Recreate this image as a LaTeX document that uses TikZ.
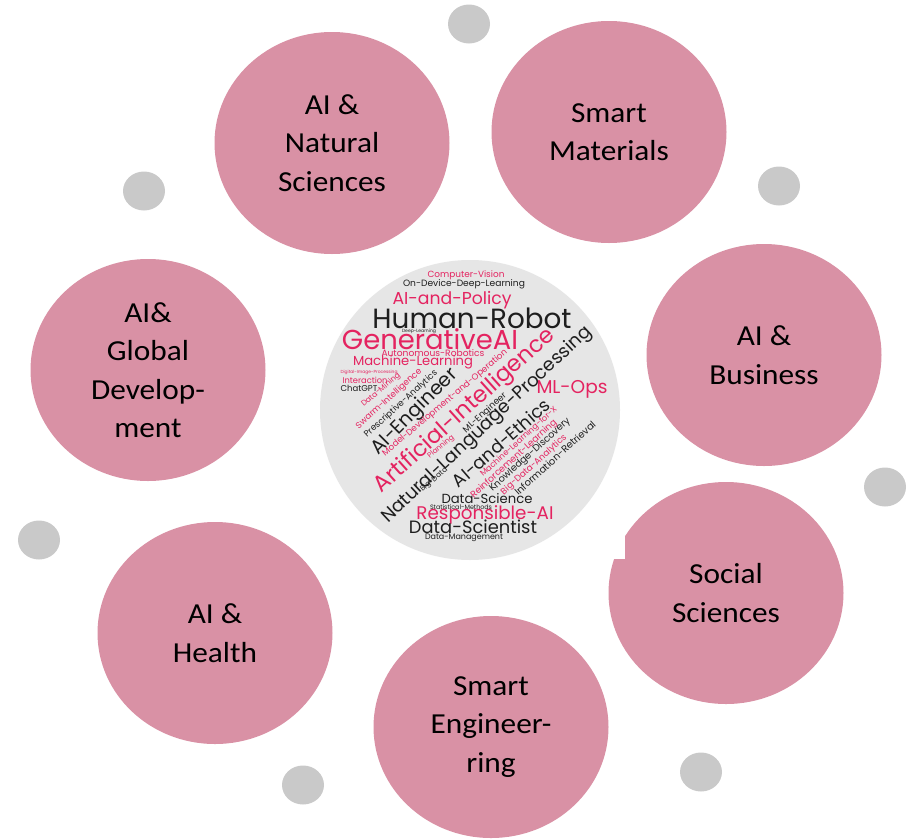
\documentclass[tikz,border=0pt]{standalone}
\usepackage{fontspec}
\usepackage{graphicx}
\usepackage{xcolor}
\usepackage{tikz}
\usetikzlibrary{shapes.geometric, positioning}
\setmainfont{Carlito}
\newfontfamily\topicfont[FakeStretch=1.08]{Carlito}
\newfontfamily\cloudfont{Poppins}
\definecolor{topicpink}{RGB}{217,145,165}
\definecolor{dotgrey}{RGB}{201,201,201}
\definecolor{cloudgrey}{RGB}{230,230,230}
\definecolor{wordpink}{RGB}{228,35,96}
\definecolor{wordblack}{RGB}{30,30,30}

\begin{document}
\begin{tikzpicture}[x=1pt, y=-1pt,
  topic/.style={ellipse, fill=topicpink, minimum width=235pt, minimum height=222pt,
    inner sep=0pt, align=center, font=\topicfont\fontsize{29}{38.5}\selectfont},
  dot/.style={ellipse, fill=dotgrey, minimum width=42pt, minimum height=39pt, inner sep=0pt},
  disc/.style={circle, fill=cloudgrey, minimum size=300pt, inner sep=0pt},
  word/.style={inner sep=0pt, font=\cloudfont}
]
\useasboundingbox (0,0) rectangle (915,838);

% small grey dots round the ring
\node[dot] (d1) at (469,24) {};
\node[dot] (d2) at (144,191) {};
\node[dot] (d3) at (779,186) {};
\node[dot] (d4) at (885,487) {};
\node[dot] (d5) at (39,540) {};
\node[dot] (d6) at (303,785) {};
\node[dot] (d7) at (701,772) {};

% the seven topics
\node[topic] (natsci)    at (332,143) {AI \&\\Natural\\Sciences};
\node[topic] (smartmat)  at (609,132) {Smart\\Materials};
\node[topic] (business)  at (764,355) {AI \&\\Business};
\node[topic] (social)    at (726,593) {Social\\Sciences};
\node[topic] (smarteng)  at (491,727) {Smart\\Engineer-\\ring};
\node[topic] (health)    at (215,633) {AI \&\\Health};
\node[topic] (globaldev) at (148,370) {AI\&\\Global\\Develop-\\ment};

% word cloud: white backing, then the disc
\fill[white] (310,258) rectangle (625,559);
\node[disc] (cloud) at (470,410) {};

% x / y / angle / width / colour / word
\foreach \x/\y/\a/\w/\c/\t [count=\i] in {
  466/275/0/77/wordpink/Computer-Vision,
  464/284/0/122/wordblack/On-Device-Deep-Learning,
  452/300/0/119/wordpink/AI-and-Policy,
  472/318/0/199/wordblack/Human-Robot,
  419/331/0/34/wordblack/Deep-Learning,
  430/339/0/176/wordpink/GenerativeAI,
  433/353/0/103/wordpink/Autonomous-Robotics,
  413/362/0/120/wordpink/Machine-Learning,
  369/372/0/57/wordpink/Digital-Image-Processing,
  365/380/0/45/wordpink/Interaction,
  359/388/0/37/wordblack/ChatGPT,
  572/389/0/71/wordpink/ML-Ops,
  487/499/0/91/wordblack/Data-Science,
  461/507/0/62/wordblack/Statistical-Methods,
  485/515/0/137/wordpink/Responsible-AI,
  473/527/0/128/wordblack/Data-Scientist,
  464/538/0/78/wordblack/Data-Management,
  381/390/40/48/wordpink/Data-Mining,
  389/399/42/85/wordpink/Swarm-Intelligence,
  401/404/42/95/wordblack/Prescriptive-Analytics,
  415/412/45/113/wordblack/AI-Engineer,
  445/403/40/160/wordpink/Model-Development-and-Operation,
  465/411/42/234/wordpink/Artificial-Intelligence,
  441/447/40/32/wordpink/Planning,
  485/413/42/55/wordblack/ML-Engineer,
  487/425/43/279/wordblack/Natural-Language-Processing,
  434/480/40/33/wordblack/Big-Data,
  501/443/41/123/wordblack/AI-and-Ethics,
  519/442/42/100/wordpink/Machine-Learning-for-X,
  514/459/42/112/wordpink/Reinforcement-Learning,
  530/455/42/105/wordblack/Knowledge-Discovery,
  534/465/42/85/wordpink/Big-Data-Analytics,
  555/458/42/105/wordblack/Information-Retrieval}
  \node[word, text=\c, rotate=\a] (w\i) at (\x,\y) {\resizebox{\w pt}{!}{\t}};
\end{tikzpicture}
\end{document}
